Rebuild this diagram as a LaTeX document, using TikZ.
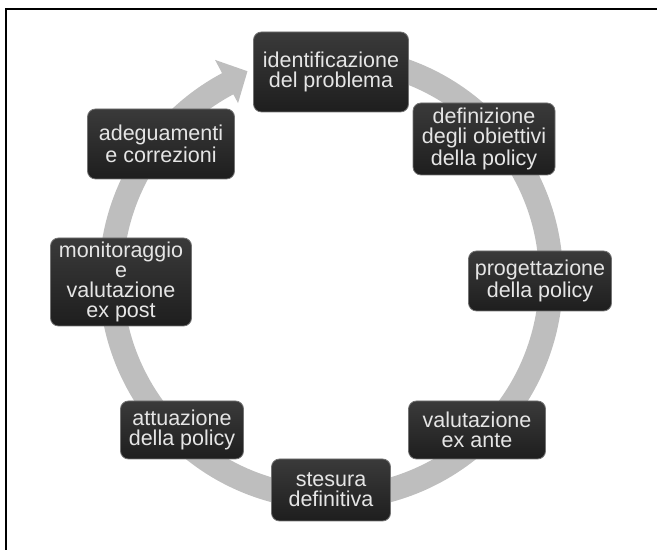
\documentclass[tikz,border=0pt]{standalone}
\usepackage{fontspec}
\setmainfont{Liberation Sans}
\definecolor{ringgray}{HTML}{BEBEBE}
\definecolor{boxtop}{HTML}{3A3A3A}
\definecolor{boxbot}{HTML}{1E1E1E}
\tikzset{
  phase/.style={rounded corners=4pt, top color=boxtop, bottom color=boxbot,
    draw=black!55, line width=0.4pt, text=white!90!black, align=center,
    inner sep=0pt, font=\fontsize{10.75}{10}\selectfont},
}
\begin{document}
\begin{tikzpicture}[x=0.5pt,y=0.5pt]
      \useasboundingbox (0,0) rectangle (657,550);
      \draw[line width=1pt] (5.5,0) -- (5.5,541) -- (657,541);
      % circular arrow behind the boxes
      \begin{scope}[shift={(331,272)}]
        \fill[ringgray] (75:232) arc[start angle=75,end angle=-242,radius=232]
          -- (-242:247) -- (-248:223) -- (-242:198) -- (-242:208)
          arc[start angle=-242,end angle=75,radius=208] -- cycle;
      \end{scope}
      \draw
        (331,478) node[phase, minimum width=77.5pt, minimum height=40pt] (ident){identificazione\\del problema}
        (484,411) node[phase, minimum width=71pt, minimum height=36pt] (defin){definizione\\degli obiettivi\\della policy}
        (540,269) node[phase, minimum width=71.5pt, minimum height=30pt] (proget){progettazione\\della policy}
        (477,120) node[phase, minimum width=68.5pt, minimum height=29pt] (exante){valutazione\\ex ante}
        (331,60) node[phase, minimum width=59.5pt, minimum height=31pt] (stesura){stesura\\definitiva}
        (182,120) node[phase, minimum width=61.5pt, minimum height=29pt] (attuaz){attuazione\\della policy}
        (121,268) node[phase, minimum width=70.5pt, minimum height=44pt] (monit){monitoraggio\\e\\valutazione\\ex post}
        (161,406) node[phase, minimum width=73.5pt, minimum height=35pt] (adeg){adeguamenti\\e correzioni};
    \end{tikzpicture}
\end{document}
